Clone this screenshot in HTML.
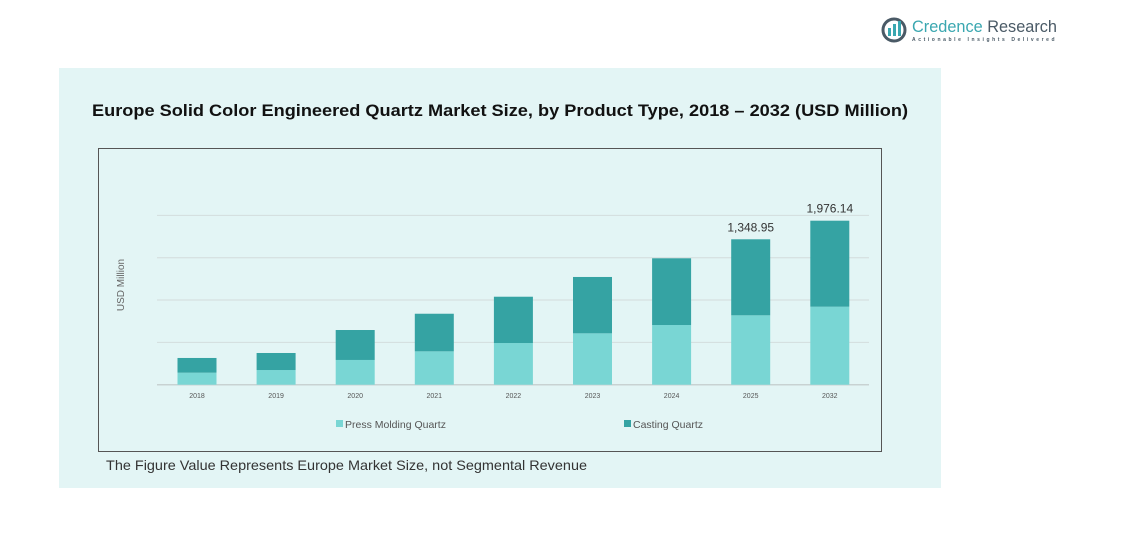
<!DOCTYPE html>
<html><head><meta charset="utf-8"><style>
html,body{margin:0;padding:0;background:#fff;}
svg{display:block;font-family:"Liberation Sans",sans-serif;}
</style></head><body>
<svg id="c" width="1143" height="533" viewBox="0 0 1143 533">
  <g>
    <circle cx="894" cy="30" r="11" fill="none" stroke="#4a5a66" stroke-width="3"/>
    <rect x="888" y="28" width="3" height="8" fill="#3aa7b0"/><rect x="893" y="24" width="3" height="12" fill="#3aa7b0"/><rect x="898" y="21" width="3" height="15" fill="#3aa7b0"/>
    <text x="912" y="32" font-size="17" fill="#3aa7b0" textLength="145" lengthAdjust="spacingAndGlyphs">Credence <tspan fill="#4a5a66">Research</tspan></text>
    <text x="912" y="41" font-size="5" fill="#4a5a66" letter-spacing="1.4" font-weight="bold" textLength="144">Actionable Insights Delivered</text>
  </g>
  <rect x="59" y="68" width="882" height="420" fill="#e3f5f5"/>
  <text x="500" y="116" text-anchor="middle" font-size="17" font-weight="bold" fill="#111" textLength="816" lengthAdjust="spacingAndGlyphs">Europe Solid Color Engineered Quartz Market Size, by Product Type, 2018 – 2032 (USD Million)</text>
  <rect x="98.5" y="148.5" width="783" height="303" fill="none" stroke="#555" stroke-width="1"/>
  <g id="grid"></g>
  <g id="bars"></g>
  <text transform="translate(124,285) rotate(-90)" text-anchor="middle" font-size="10" fill="#666">USD Million</text>
  <g>
    <rect x="336" y="420" width="7" height="7" fill="#79d6d4"/>
    <text x="345" y="428" font-size="10.5" fill="#555">Press Molding Quartz</text>
    <rect x="624" y="420" width="7" height="7" fill="#35a3a3"/>
    <text x="633" y="428" font-size="10.5" fill="#555">Casting Quartz</text>
  </g>
  <text x="106" y="470" font-size="14" fill="#333" textLength="481" lengthAdjust="spacingAndGlyphs">The Figure Value Represents Europe Market Size, not Segmental Revenue</text>
</svg>
<script>
const categories = ["2018","2019","2020","2021","2022","2023","2024","2025","2032"];
const pressMolding = [145,177,298,402,502,619,719,836,940];
const casting = [177,205,361,453,558,679,804,916,1036];
const totalLabels = ["","","","","","","","1,348.95","1,976.14"];
const gridValues = [0,510,1020,1530,2040];
const NS="http://www.w3.org/2000/svg";
const baseY=384.7, pxPerUnit=164/1976;
const x0=197, step=79.1, bw=39;
function y(v){return baseY - v*pxPerUnit;}
function xc(i){return x0 + i*step;}
const grid=document.getElementById('grid');
gridValues.forEach(function(g,i){
  const l=document.createElementNS(NS,'line');
  l.setAttribute('x1',157);l.setAttribute('x2',869);
  l.setAttribute('y1',y(g));l.setAttribute('y2',y(g));
  l.setAttribute('stroke',i===0?'#c8d2d2':'#d3dcdc');l.setAttribute('stroke-width',i===0?1.5:1);
  
  
  grid.appendChild(l);
});
const bars=document.getElementById('bars');
categories.forEach(function(c,i){
  const p=pressMolding[i], k=casting[i];
  const r1=document.createElementNS(NS,'rect');
  r1.setAttribute('x',xc(i)-bw/2);r1.setAttribute('width',bw);
  r1.setAttribute('y',y(p));r1.setAttribute('height',p*pxPerUnit);
  r1.setAttribute('fill','#79d6d4');
  
  
  bars.appendChild(r1);
  const r2=document.createElementNS(NS,'rect');
  r2.setAttribute('x',xc(i)-bw/2);r2.setAttribute('width',bw);
  r2.setAttribute('y',y(p+k));r2.setAttribute('height',k*pxPerUnit);
  r2.setAttribute('fill','#35a3a3');
  
  
  bars.appendChild(r2);
  const t=document.createElementNS(NS,'text');
  t.setAttribute('x',xc(i));t.setAttribute('y',398);
  t.setAttribute('text-anchor','middle');t.setAttribute('font-size','7');t.setAttribute('fill','#555');
  t.textContent=c;
  
  
  bars.appendChild(t);
  if(totalLabels[i]){
    const v=document.createElementNS(NS,'text');
    v.setAttribute('x',xc(i));v.setAttribute('y',y(p+k)-8);
    v.setAttribute('text-anchor','middle');v.setAttribute('font-size','12');v.setAttribute('fill','#333');
    v.textContent=totalLabels[i];
    
    
    bars.appendChild(v);
  }
});
</script>
</body></html>
